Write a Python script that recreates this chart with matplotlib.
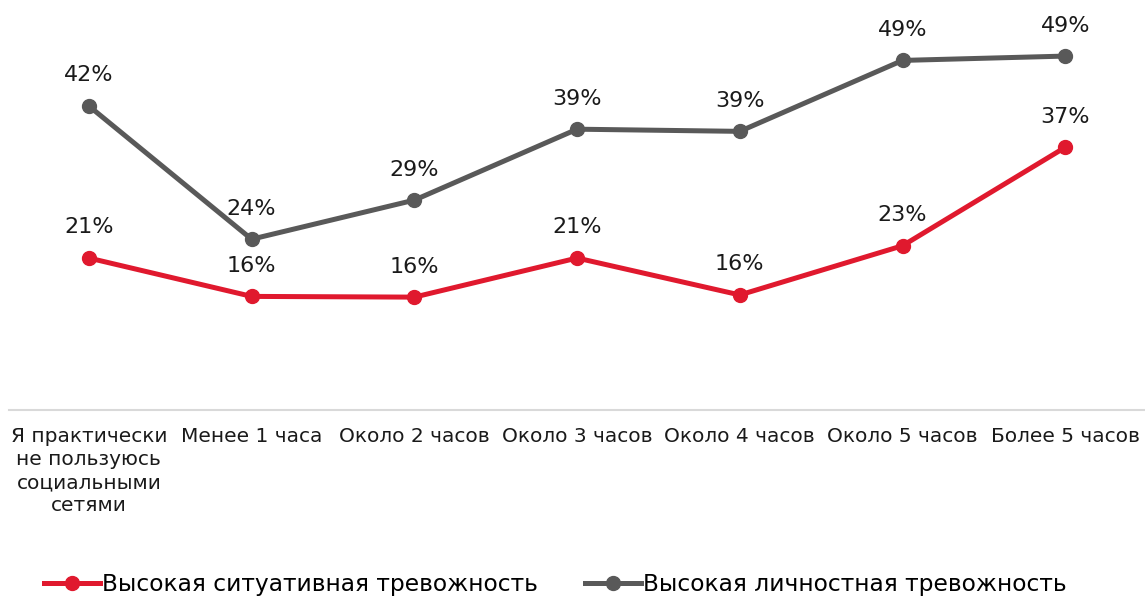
import matplotlib.pyplot as plt

plt.rcParams['font.family'] = ['DejaVu Sans']

# данные
categories = ['Я практически\nне пользуюсь\nсоциальными\nсетями', 'Менее 1 часа',
              'Около 2 часов', 'Около 3 часов', 'Около 4 часов', 'Около 5 часов',
              'Более 5 часов']
situational = [21.0, 15.7, 15.6, 21.0, 15.9, 22.7, 36.3]
situational_labels = ['21%', '16%', '16%', '21%', '16%', '23%', '37%']
personal = [42.0, 23.6, 29.0, 38.8, 38.5, 48.3, 48.9]
personal_labels = ['42%', '24%', '29%', '39%', '39%', '49%', '49%']

red = '#E0192E'
gray = '#595959'

fig = plt.figure(figsize=(11.45, 5.96), dpi=100)
ax = fig.add_axes([0.008, 0.312, 0.992, 0.668])

x = list(range(len(categories)))
ax.plot(x, situational, color=red, lw=3.6, marker='o', ms=10,
        label='Высокая ситуативная тревожность')
ax.plot(x, personal, color=gray, lw=3.6, marker='o', ms=10,
        label='Высокая личностная тревожность')

# подписи значений
for xi, v, t in zip(x, situational, situational_labels):
    ax.annotate(t, (xi, v), xytext=(0, 22), textcoords='offset points',
                ha='center', va='center', fontsize=16, color='#1a1a1a')
for xi, v, t in zip(x, personal, personal_labels):
    ax.annotate(t, (xi, v), xytext=(0, 22), textcoords='offset points',
                ha='center', va='center', fontsize=16, color='#1a1a1a')

ax.set_xlim(-0.49, 6.49)
ax.set_ylim(0, 55)
ax.set_xticks(x)
ax.set_xticklabels(categories, fontsize=14.5, color='#1a1a1a', linespacing=1.28)
ax.tick_params(axis='x', length=0, pad=12)
ax.set_yticks([])
for s in ['top', 'right', 'left']:
    ax.spines[s].set_visible(False)
ax.spines['bottom'].set_color('#d9d9d9')
ax.spines['bottom'].set_linewidth(1.5)

fig.legend(loc='lower left', bbox_to_anchor=(0.02, -0.035), ncol=2, frameon=False,
           fontsize=16.8, handlelength=2.4, handletextpad=0.1, columnspacing=2.0)

fig.savefig('out.png', dpi=100)
